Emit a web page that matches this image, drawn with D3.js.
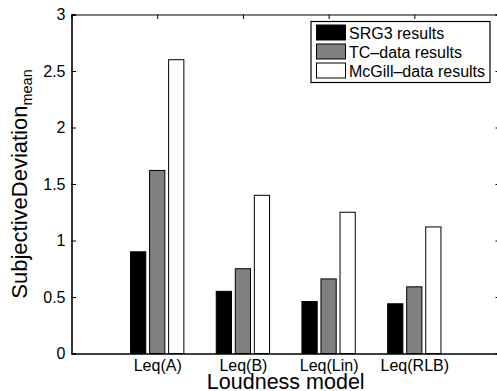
<!DOCTYPE html>
<html>
<head>
<meta charset="utf-8">
<script src="https://cdn.jsdelivr.net/npm/d3@7"></script>
<style>
  html, body { margin: 0; padding: 0; background: #fff; }
  svg { display: block; font-family: "Liberation Sans", Arial, Helvetica, sans-serif; }
</style>
</head>
<body>
<svg id="chart" width="497" height="391"></svg>
<script>
// Loudness models on the x axis
const categories = ["Leq(A)", "Leq(B)", "Leq(Lin)", "Leq(RLB)"];
// Mean subjective deviation per data set
const srg3Values   = [0.90, 0.55, 0.46, 0.44];
const tcValues     = [1.62, 0.75, 0.66, 0.59];
const mcgillValues = [2.60, 1.40, 1.25, 1.12];
const seriesNames  = ["SRG3 results", "TC\u2013data results", "McGill\u2013data results"];
const seriesFills  = ["#000000", "#808080", "#ffffff"];
const yTicks = [0, 0.5, 1, 1.5, 2, 2.5, 3];

const series = [srg3Values, tcValues, mcgillValues];

const svg = d3.select("#chart");
const plotLeft = 71.5, plotRight = 500, plotTop = 14.5, plotBottom = 353.5;

// Categories sit at 1..4 on a 0..5 axis, as in a grouped bar plot
const x = d3.scaleLinear().domain([0, categories.length + 1]).range([plotLeft, plotRight]);
const y = d3.scaleLinear().domain([0, 3]).range([plotBottom, plotTop]);

const nSeries = series.length;
const groupWidth = Math.min(0.8, nSeries / (nSeries + 1.5));
const step = groupWidth / nSeries;
const barW = step * 0.8;

// Bars
series.forEach((vals, s) => {
  const off = (s - (nSeries - 1) / 2) * step;
  svg.append("g").selectAll("rect").data(vals).join("rect")
    .attr("x", (d, i) => x(i + 1 + off - barW / 2))
    .attr("width", x(barW) - x(0))
    .attr("y", d => y(d))
    .attr("height", d => y(0) - y(d))
    .attr("fill", seriesFills[s])
    .attr("stroke", "#000")
    .attr("stroke-width", 1);
});

// Axes
const tickLen = 4.5;
const catTicks = categories.map((c, i) => i + 1);

const gLeft = svg.append("g").attr("transform", `translate(${plotLeft},0)`)
  .call(d3.axisLeft(y).tickValues(yTicks).tickFormat(d3.format("")).tickSize(-tickLen).tickPadding(6));
const gRight = svg.append("g").attr("transform", `translate(${plotRight},0)`)
  .call(d3.axisRight(y).tickValues(yTicks).tickFormat("").tickSize(-tickLen));
const gTop = svg.append("g").attr("transform", `translate(0,${plotTop})`)
  .call(d3.axisTop(x).tickValues(catTicks).tickFormat("").tickSize(-tickLen));
const gBottom = svg.append("g").attr("transform", `translate(0,${plotBottom})`)
  .call(d3.axisBottom(x).tickValues(catTicks).tickFormat((d, i) => categories[i]).tickSize(0).tickPadding(6));

[gLeft, gRight, gTop, gBottom].forEach(g => {
  g.select(".domain").attr("stroke", "#000").attr("stroke-width", 1.2);
  g.selectAll(".tick line").attr("stroke", "#000");
  g.selectAll("text").attr("fill", "#000").style("font-size", "16px")
    .style("font-family", '"Liberation Sans", Arial, sans-serif');
});
gBottom.select(".domain").attr("stroke-width", 1.6);
gLeft.select(".domain").attr("stroke-width", 1.6);

// Axis titles
svg.append("text")
  .attr("x", (plotLeft + plotRight) / 2).attr("y", 389)
  .attr("text-anchor", "middle")
  .style("font-size", "21.5px")
  .text("Loudness model");

const yl = svg.append("text")
  .attr("transform", `translate(27,${(plotTop + plotBottom) / 2}) rotate(-90)`)
  .attr("text-anchor", "middle")
  .style("font-size", "22px");
yl.append("tspan").text("SubjectiveDeviation");
yl.append("tspan").attr("dy", 5).style("font-size", "14.5px").text("mean");

// Legend
const lg = svg.append("g");
lg.append("rect").attr("x", 311).attr("y", 21.5).attr("width", 179).attr("height", 61)
  .attr("fill", "#fff").attr("stroke", "#000").attr("stroke-width", 1.2);
seriesNames.forEach((name, s) => {
  const cy = 32.5 + s * 19;
  lg.append("rect").attr("x", 316.5).attr("y", cy - 7.5).attr("width", 29).attr("height", 15)
    .attr("fill", seriesFills[s]).attr("stroke", "#000").attr("stroke-width", 1);
  lg.append("text").attr("x", 349).attr("y", cy + 6)
    .style("font-size", "16px").text(name);
});
</script>
</body>
</html>
